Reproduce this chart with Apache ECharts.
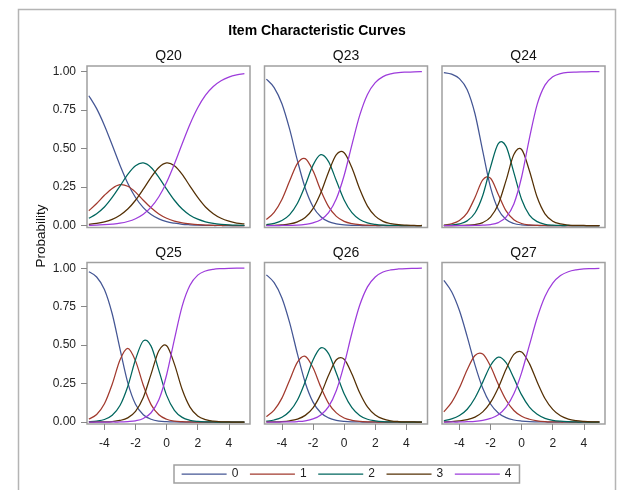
<!DOCTYPE html>
<html>
<head>
<meta charset="utf-8">
<script src="https://cdn.jsdelivr.net/npm/echarts@6/dist/echarts.min.js"></script>
<style>
html,body{margin:0;padding:0;background:#fff;}
#chart{width:618px;height:490px;}
</style>
</head>
<body>
<div id="chart"></div>
<script>
// ---- data ----
const theta = [-5,-4.5,-4,-3.5,-3,-2.5,-2,-1.5,-1,-0.5,0,0.5,1,1.5,2,2.5,3,3.5,4,4.5,5];
const items = ['Q20','Q23','Q24','Q25','Q26','Q27'];
const categories = ['0','1','2','3','4'];
const xTicks = [-4,-2,0,2,4];
const yTicks = [0,0.25,0.5,0.75,1];

const q20_0 = [.844,.760,.651,.524,.393,.276,.183,.117,.072,.044,.026,.016,.009,.0055,.003,.002,.001,.001,0,0,0];
const q20_1 = [.097,.144,.197,.242,.266,.256,.218,.165,.116,.076,.048,.029,.018,.011,.006,.004,.002,.001,.001,0,0];
const q20_2 = [.048,.078,.121,.183,.257,.333,.389,.407,.378,.314,.237,.165,.108,.068,.042,.025,.015,.009,.005,.003,.002];
const q20_3 = [.009,.015,.025,.041,.068,.108,.165,.237,.314,.378,.407,.389,.333,.257,.183,.121,.078,.048,.029,.017,.011];
const q20_4 = [.002,.003,.006,.010,.016,.027,.045,.074,.120,.188,.282,.401,.532,.659,.766,.848,.904,.941,.965,.979,.987];

const q23_0 = [.952,.897,.792,.625,.422,.243,.123,.058,.026,.012,.005,.002,.001,0,0,0,0,0,0,0,0];
const q23_1 = [.040,.086,.170,.291,.405,.435,.356,.229,.124,.060,.028,.013,.006,.003,.001,.001,0,0,0,0,0];
const q23_2 = [.007,.015,.033,.072,.145,.261,.393,.461,.416,.291,.167,.084,.040,.018,.008,.003,.002,.001,0,0,0];
const q23_3 = [.001,.002,.005,.011,.025,.053,.111,.213,.349,.462,.474,.376,.238,.127,.062,.028,.013,.006,.003,.001,.001];
const q23_4 = [0,0,.001,.002,.003,.008,.018,.039,.085,.175,.326,.525,.716,.852,.929,.968,.986,.994,.997,.999,1.0];

const q24_0 = [.994,.984,.955,.883,.727,.484,.249,.105,.040,.014,.005,.002,.001,0,0,0,0,0,0,0,0];
const q24_1 = [.004,.012,.033,.083,.183,.297,.308,.203,.096,.039,.014,.005,.002,.001,0,0,0,0,0,0,0];
const q24_2 = [.002,.004,.011,.031,.082,.196,.380,.533,.515,.344,.170,.069,.026,.009,.003,.001,.001,0,0,0,0];
const q24_3 = [0,0,.001,.003,.007,.020,.056,.139,.294,.462,.495,.357,.184,.077,.029,.011,.004,.002,.001,0,0];
const q24_4 = [0,0,0,0,.001,.003,.007,.020,.055,.141,.316,.567,.788,.913,.967,.988,.996,.998,.999,1.0,1.0];

const q25_0 = [.977,.943,.862,.704,.476,.257,.116,.048,.019,.007,.003,.001,0,0,0,0,0,0,0,0,0];
const q25_1 = [.020,.050,.119,.246,.404,.479,.398,.240,.114,.048,.019,.007,.003,.001,0,0,0,0,0,0,0];
const q25_2 = [.003,.007,.017,.045,.108,.232,.407,.528,.494,.336,.174,.077,.031,.012,.005,.002,.001,0,0,0,0];
const q25_3 = [0,.001,.002,.004,.011,.028,.070,.160,.312,.464,.496,.377,.212,.098,.040,.016,.006,.002,.001,0,0];
const q25_4 = [0,0,0,.001,.001,.004,.009,.024,.061,.145,.308,.538,.754,.889,.955,.982,.993,.997,.999,1.0,1.0];

const q26_0 = [.957,.906,.807,.645,.442,.256,.130,.061,.028,.012,.005,.002,.001,0,0,0,0,0,0,0,0];
const q26_1 = [.036,.078,.156,.274,.390,.427,.353,.228,.122,.060,.027,.012,.005,.002,.001,0,0,0,0,0,0];
const q26_2 = [.006,.014,.032,.071,.144,.264,.403,.482,.445,.317,.185,.094,.044,.019,.009,.004,.002,.001,0,0,0];
const q26_3 = [.001,.002,.004,.009,.020,.044,.093,.182,.304,.405,.409,.313,.191,.099,.047,.021,.009,.004,.002,.001,0];
const q26_4 = [0,0,.001,.002,.004,.009,.021,.047,.101,.206,.374,.579,.759,.879,.943,.975,.989,.995,.998,.999,1.0];

const q27_0 = [.921,.847,.725,.556,.372,.220,.118,.060,.029,.014,.007,.003,.002,.001,0,0,0,0,0,0,0];
const q27_1 = [.067,.128,.223,.341,.433,.442,.363,.246,.144,.076,.038,.019,.009,.004,.002,.001,.001,0,0,0,0];
const q27_2 = [.010,.021,.043,.084,.157,.260,.368,.422,.386,.286,.177,.098,.051,.025,.012,.006,.003,.001,.001,0,0];
const q27_3 = [.002,.004,.008,.016,.033,.067,.128,.224,.344,.440,.456,.380,.261,.154,.083,.041,.020,.010,.005,.002,.001];
const q27_4 = [0,.001,.001,.003,.005,.011,.024,.048,.097,.184,.322,.500,.678,.816,.903,.952,.977,.989,.995,.997,.999];

const panelData = [
  [q20_0,q20_1,q20_2,q20_3,q20_4],
  [q23_0,q23_1,q23_2,q23_3,q23_4],
  [q24_0,q24_1,q24_2,q24_3,q24_4],
  [q25_0,q25_1,q25_2,q25_3,q25_4],
  [q26_0,q26_1,q26_2,q26_3,q26_4],
  [q27_0,q27_1,q27_2,q27_3,q27_4]
];

// ---- styling / layout ----
const colors = ['#445694','#A23A2E','#01665E','#543005','#9D3CDB'];
const FONT = '"Liberation Sans", Arial, sans-serif';
const colLeft = [87, 264.5, 442];
const rowTop = [66, 262.5];
const pw = 163, ph = 161.5;
const frameColor = '#a0a0a0';
const LW = 1.25;

// smooth curve (Catmull-Rom as cubic Bezier) through the series' own points, positioned by the axes
function makeRenderItem(color) {
  return function (params, api) {
    if (params.dataIndex !== 0) return null;
    const n = params.dataInsideLength != null ? params.dataInsideLength : 0;
    return null;
  };
}
function curveRender(color, xs, ys) {
  return function (params, api) {
    if (params.dataIndex !== 0) return null;
    const P = xs.map((x, j) => api.coord([x, ys[j]]));
    let d = 'M' + P[0][0] + ' ' + P[0][1];
    for (let j = 0; j < P.length - 1; j++) {
      const p0 = P[Math.max(j - 1, 0)], p1 = P[j], p2 = P[j + 1], p3 = P[Math.min(j + 2, P.length - 1)];
      const c1x = p1[0] + (p2[0] - p0[0]) / 6, c1y = p1[1] + (p2[1] - p0[1]) / 6;
      const c2x = p2[0] - (p3[0] - p1[0]) / 6, c2y = p2[1] - (p3[1] - p1[1]) / 6;
      d += ' C' + c1x + ' ' + c1y + ' ' + c2x + ' ' + c2y + ' ' + p2[0] + ' ' + p2[1];
    }
    return {
      type: 'path',
      shape: { pathData: d },
      style: { stroke: color, fill: 'none', lineWidth: LW },
      silent: true
    };
  };
}

const grids = [], xAxes = [], yAxes = [], series = [], graphics = [];
items.forEach((name, i) => {
  const r = Math.floor(i / 3), c = i % 3;
  grids.push({
    left: colLeft[c], top: rowTop[r], width: pw, height: ph,
    show: true, borderColor: frameColor, borderWidth: 1.5, backgroundColor: '#fff',
    containLabel: false
  });
  xAxes.push({
    type: 'value', gridIndex: i, min: -5.12, max: 5.36,
    axisLine: { show: false, onZero: false },
    splitLine: { show: false },
    axisTick: { show: r === 1, length: 6, customValues: xTicks, lineStyle: { color: '#888' } },
    axisLabel: { show: r === 1, customValues: xTicks, margin: 14, fontSize: 12, color: '#222', fontFamily: FONT,
      formatter: v => String(v) }
  });
  yAxes.push({
    type: 'value', gridIndex: i, min: -0.012, max: 1.037,
    axisLine: { show: false, onZero: false },
    splitLine: { show: false },
    axisTick: { show: c === 0, length: 6, customValues: yTicks, lineStyle: { color: '#888' } },
    axisLabel: { show: c === 0, customValues: yTicks, margin: 11, fontSize: 12, color: '#222', fontFamily: FONT,
      formatter: v => v.toFixed(2) }
  });
  panelData[i].forEach((vals, k) => {
    series.push({
      type: 'custom', name: 'c' + i + '_' + k, xAxisIndex: i, yAxisIndex: i,
      data: theta.map((t, j) => [t, vals[j]]),
      encode: { x: 0, y: 1 },
      renderItem: curveRender(colors[k], theta, vals),
      clip: true,
      animation: false
    });
  });
  graphics.push({
    type: 'text', x: colLeft[c] + pw / 2, y: r === 0 ? 56 : 253.5,
    style: { text: name, font: '14px ' + FONT, fill: '#111', textAlign: 'center', textVerticalAlign: 'middle' }
  });
});

// legend entries (line keys)
categories.forEach((cat, k) => {
  series.push({
    type: 'line', name: cat, xAxisIndex: 0, yAxisIndex: 0, data: [],
    symbol: 'none', lineStyle: { width: LW, color: colors[k] }, itemStyle: { color: colors[k] }
  });
});

graphics.push({
  type: 'rect', shape: { x: 18.5, y: 9.5, width: 597, height: 495 },
  style: { fill: 'none', stroke: '#b4b4b4', lineWidth: 1.5 }, silent: true
});
graphics.push({
  type: 'text', x: 317, y: 31,
  style: { text: 'Item Characteristic Curves', font: 'bold 14px ' + FONT, fill: '#000', textAlign: 'center', textVerticalAlign: 'middle' }
});
graphics.push({
  type: 'text', x: 41, y: 236, rotation: Math.PI / 2,
  style: { text: 'Probability', font: '13.5px ' + FONT, fill: '#111', textAlign: 'center', textVerticalAlign: 'middle' }
});

const chart = echarts.init(document.getElementById('chart'), null, { renderer: 'canvas' });
chart.setOption({
  animation: false,
  backgroundColor: '#fff',
  color: colors,
  textStyle: { fontFamily: FONT },
  grid: grids,
  xAxis: xAxes,
  yAxis: yAxes,
  legend: {
    data: categories, left: 174, top: 465,
    padding: [3, 8, 3, 7], itemWidth: 45, itemHeight: 12, itemGap: 11,
    borderColor: frameColor, borderWidth: 1.5,
    itemStyle: { opacity: 0, borderWidth: 0 },
    lineStyle: { width: LW },
    textStyle: { fontSize: 12, color: '#222', fontFamily: FONT },
    selectedMode: false
  },
  graphic: graphics,
  series: series
});
</script>
</body>
</html>
